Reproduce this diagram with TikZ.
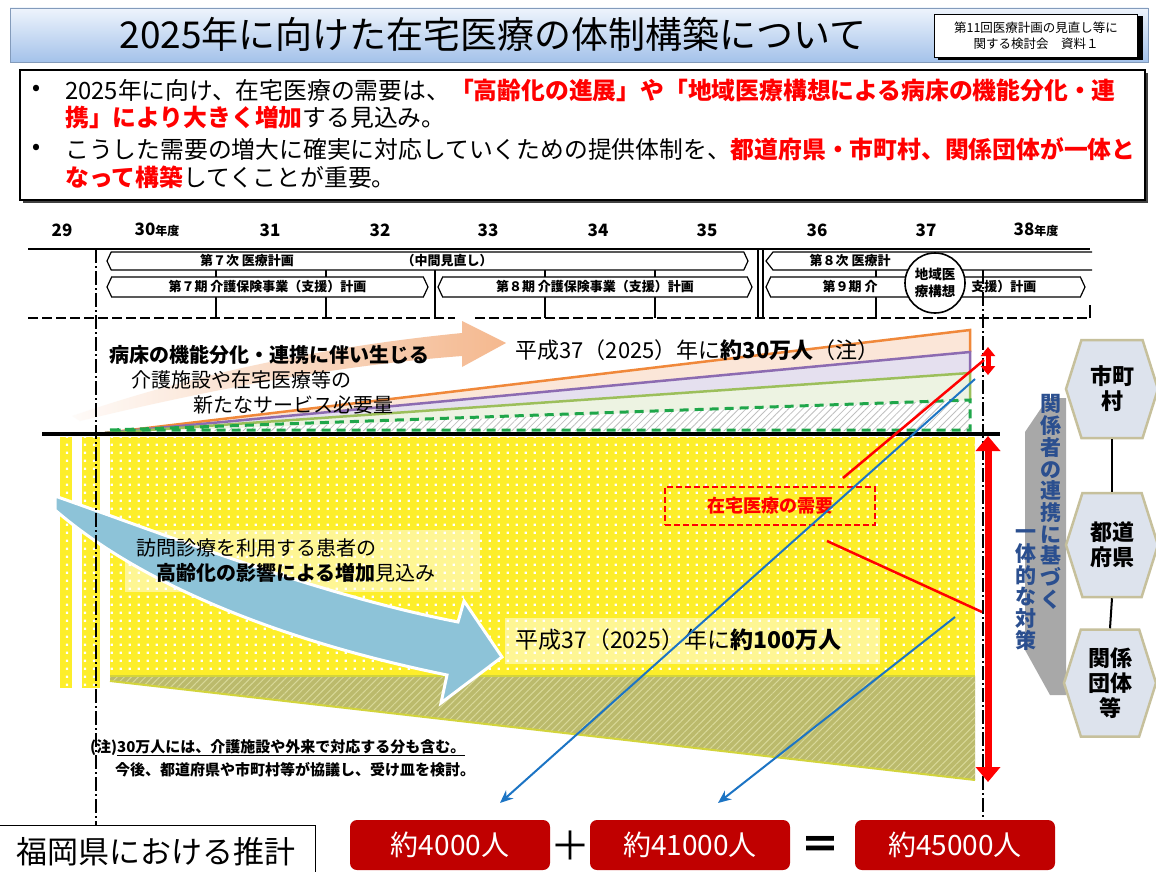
\documentclass[tikz,border=0pt]{standalone}
\usepackage{fontspec}
\setmainfont{Noto Sans CJK JP}
\usetikzlibrary{shapes.symbols,arrows.meta,patterns.meta,calc}
\newcommand{\fsz}[1]{\fontsize{#1}{#1}\selectfont}
\definecolor{bantop}{HTML}{EEF4FC}
\definecolor{banbot}{HTML}{A4C2EA}
\definecolor{myred}{HTML}{FF0000}
\definecolor{boxred}{HTML}{C00000}
\definecolor{yel}{HTML}{FDEE2A}
\definecolor{khaki}{HTML}{BBBA6C}
\definecolor{hatchc}{HTML}{D8D898}
\definecolor{ygrn}{HTML}{D2D43C}
\definecolor{peach}{HTML}{F4B183}
\definecolor{lblue}{HTML}{8DC3D8}
\definecolor{ora}{HTML}{F0883A}
\definecolor{pur}{HTML}{8C6BB1}
\definecolor{grn}{HTML}{9CBF5B}
\definecolor{dgrn}{HTML}{1FA64A}
\definecolor{orfill}{HTML}{FBE6D8}
\definecolor{pufill}{HTML}{E5E0EF}
\definecolor{grfill}{HTML}{EDF3E2}
\definecolor{blu}{HTML}{1C74C4}
\definecolor{hexfill}{HTML}{DDE3ED}
\definecolor{hexline}{HTML}{C6C09C}
\definecolor{vblue}{HTML}{2B4F8F}
\definecolor{gbar}{HTML}{A8A8A8}
\newcommand{\rb}[1]{\textcolor{myred}{\bfseries #1}}
\tikzdeclarepattern{
  name=wdots, type=uncolored,
  bounding box={(0pt,0pt) and (9pt,8pt)},
  tile size={(9pt,8pt)},
  code={\fill (3pt,2.5pt) rectangle (5.5pt,5pt);}
}
\begin{document}
\begin{tikzpicture}[x=1pt,y=-1pt,
  yearlbl/.style={font=\fsz{17}\bfseries},
  rowbox/.style={signal, signal to=west and east, signal pointer angle=130, draw, line width=1.2pt, fill=white, inner sep=0pt},
  rowtxt/.style={font=\fsz{13}\bfseries},
  tick/.style={line width=1.5pt},
  hexbox/.style={signal, signal to=west and east, signal pointer angle=145, fill=hexfill, draw=hexline, line width=2.5pt, minimum width=92pt, align=center, font=\fontsize{22}{25}\selectfont\bfseries, inner sep=0pt},
  redbox/.style={fill=boxred, rounded corners=7pt, minimum width=200pt, minimum height=50pt, text=white, font=\fsz{28}},
  vtext/.style={align=center, text=vblue, font=\fontsize{21}{21.7}\selectfont\bfseries, inner sep=0pt},
  blueline/.style={blu, line width=2pt, -{Stealth[length=13pt,width=11pt]}},
  redline/.style={myred, line width=2.5pt},
  bullet/.style={font=\fsz{23.8}, anchor=west, inner sep=0pt},
  bdot/.style={font=\fsz{20}\bfseries, anchor=center, inner sep=0pt},
]
\useasboundingbox (0,0) rectangle (1156,872);
\fill[white] (0,0) rectangle (1156,872);

% ---------- title banner ----------
\shade[top color=bantop, bottom color=banbot, draw=banbot!80!black, line width=0.6pt] (10,8) rectangle (1148,62);
\node[font=\fsz{37}] (title) at (493,34) {2025年に向けた在宅医療の体制構築について};
\fill[black] (938,16) rectangle (1143,60);
\node[draw, line width=1pt, fill=white, minimum width=203pt, minimum height=43pt, align=center, font=\fontsize{12.5}{16}\selectfont, inner sep=0pt] (src) at (1036,36) {第11回医療計画の見直し等に\\関する検討会　資料１};

% ---------- bullet box ----------
\fill[black!75] (23,73) rectangle (1148,203);
\draw[line width=1.5pt, fill=white] (20,70) rectangle (1145,200);
\node[bdot] (b1) at (36,90) {•};
\node[bullet] (t1) at (65,90) {2025年に向け、在宅医療の需要は、\rb{「高齢化の進展」や「地域医療構想による病床の機能分化・連}};
\node[bullet] (t2) at (65,117) {\rb{携」により大きく増加}する見込み。};
\node[bdot] (b2) at (36,149) {•};
\node[bullet] (t3) at (65,149) {こうした需要の増大に確実に対応していくための提供体制を、\rb{都道府県・市町村、関係団体が一体と}};
\node[bullet] (t4) at (65,177) {\rb{なって構築}してくことが重要。};

% ---------- timeline ----------
\node[yearlbl] (y29) at (62,230) {29};
\node[yearlbl] (y30) at (157,230) {30{\fsz{12}年度}};
\node[yearlbl] (y31) at (270,230) {31};
\node[yearlbl] (y32) at (380,230) {32};
\node[yearlbl] (y33) at (488,230) {33};
\node[yearlbl] (y34) at (598,230) {34};
\node[yearlbl] (y35) at (707,230) {35};
\node[yearlbl] (y36) at (817,230) {36};
\node[yearlbl] (y37) at (926,230) {37};
\node[yearlbl] (y38) at (1036,230) {38{\fsz{12}年度}};

\draw[line width=2pt] (28,249) -- (1090,249);
\foreach \xx in {216,545,655,876} \draw[tick] (\xx,270) -- (\xx,318);
\draw[line width=2.5pt] (326,270) -- (326,318);
\draw[tick] (435,270) -- (435,318);
\draw[line width=1.2pt] (758,249) -- (758,318);
\draw[line width=1.2pt] (763,249) -- (763,318);
\draw[line width=2pt, dash pattern=on 10pt off 4pt] (28,318) -- (455,318);
\draw[line width=2pt, dash pattern=on 10pt off 4pt] (475,318) -- (1090,318);
\draw[line width=1.5pt] (1090,305) -- (1090,318);

\node[rowbox, minimum width=641pt, minimum height=18pt] (r1) at (427.5,261) {};
\node[rowtxt] (r1a) at (247,261) {第７次 医療計画};
\node[rowtxt] (r1b) at (447,261) {（中間見直し）};
\draw[line width=1.2pt, fill=white] (1092,252) -- (773,252) -- (766,261) -- (773,270) -- (1092,270);
\node[rowtxt, anchor=west] (r1c) at (806,261) {第８次 医療計};
\node[rowbox, minimum width=321pt, minimum height=20pt] (r2) at (267.5,287) {};
\node[rowtxt] at (r2) {第７期 介護保険事業（支援）計画};
\node[rowbox, minimum width=314pt, minimum height=20pt] (r3) at (595,287) {};
\node[rowtxt] at (r3) {第８期 介護保険事業（支援）計画};
\node[rowbox, minimum width=319pt, minimum height=20pt] (r4) at (925.5,287) {};
\node[rowtxt, anchor=west] (r4a) at (819,287) {第９期 介};
\node[rowtxt, anchor=east] (r4b) at (1040,287) {支援）計画};
\node[circle, draw, line width=1.6pt, fill=white, minimum size=60pt, inner sep=0pt, align=center, font=\fontsize{13.5}{17}\selectfont\bfseries] (chiiki) at (935,283) {地域医\\療構想};

% ---------- upper chart ----------
\fill[orfill] (105,433) -- (970,330) -- (970,352) -- cycle;
\fill[pufill] (105,433) -- (970,352) -- (970,373) -- cycle;
\fill[grfill] (105,433) -- (970,373) -- (970,400) -- cycle;
\fill[pattern={Lines[angle=45,distance=5pt,line width=0.8pt]}, pattern color=black!25] (105,433) -- (970,400) -- (970,431) -- (105,431) -- cycle;
\draw[ora, line width=2.5pt] (105,433) -- (970,330) -- (970,352);
\draw[pur, line width=2.5pt] (105,433) -- (970,352) -- (970,373);
\draw[grn, line width=2.5pt] (105,433) -- (970,373) -- (970,400);
\draw[dgrn, line width=3pt, dash pattern=on 9pt off 6pt] (110,430) -- (970,400) -- (970,430) -- cycle;

\shade[left color=peach!5, right color=peach, opacity=0.9] (72,416) .. controls (200,372) and (330,346) .. (462,333) -- (462,321) -- (506,343) -- (462,367) -- (462,356) .. controls (330,366) and (200,392) .. (80,421) -- cycle;

\node[font=\fsz{20}\bfseries, anchor=west] (u1) at (106,355) {病床の機能分化・連携に伴い生じる};
\node[font=\fsz{20}, anchor=west] (u2) at (128,380) {介護施設や在宅医療等の};
\node[font=\fsz{20}, anchor=west] (u3) at (190,405) {新たなサービス必要量};
\node[font=\fsz{22}, anchor=west] (u4) at (512,350) {平成37（2025）年に\textbf{約30万人}（注）};

\draw[line width=4pt] (42,434) -- (1000,434);

% ---------- lower chart ----------
\fill[yel] (60,437) rectangle (72,688);
\fill[yel] (82,437) rectangle (100,688);
\fill[yel] (110,437) rectangle (975,676);
\fill[pattern=wdots, pattern color=white] (60,437) rectangle (72,688);
\fill[pattern=wdots, pattern color=white] (82,437) rectangle (100,688);
\fill[pattern=wdots, pattern color=white] (110,437) rectangle (975,676);
\fill[khaki] (110,676) -- (975,676) -- (975,780) -- (110,681) -- cycle;
\fill[pattern={Lines[angle=45,distance=5pt,line width=1pt]}, pattern color=hatchc] (110,676) -- (975,676) -- (975,780) -- (110,681) -- cycle;
\draw[ygrn, line width=2pt] (110,676) -- (975,676);
\draw[ygrn, line width=2pt] (110,681) -- (975,780);

\fill[white, opacity=0.5] (125,530) rectangle (480,592);
\fill[white, opacity=0.5] (505,618) rectangle (880,664);

\draw[white, line width=3pt, fill=lblue] (55,496) .. controls (180,540) and (320,595) .. (458,622) -- (464,601) -- (502,657) -- (441,703) -- (447,675) .. controls (300,645) and (150,592) .. (55,510) -- cycle;

\node[font=\fsz{20}, anchor=west] (l1) at (133,548) {訪問診療を利用する患者の};
\node[font=\fsz{20}, anchor=west] (l2) at (153,573) {\textbf{高齢化の影響による増加}見込み};
\node[font=\fsz{23}, anchor=west] (l3) at (512,640) {平成37（2025）年に\textbf{約100万人}};

% verticals
\draw[line width=1.5pt, dash pattern=on 14pt off 3pt on 2pt off 3pt] (96,249) -- (96,827);
\draw[line width=1.5pt, dash pattern=on 14pt off 3pt on 2pt off 3pt] (983,270) -- (983,825);

% ---------- red annotations ----------
\node[draw=myred, dash pattern=on 6pt off 3pt, line width=1.8pt, minimum width=210pt, minimum height=38pt, font=\fsz{18}\bfseries, text=myred] (juyo) at (770,506) {在宅医療の需要};
\coordinate (sa1) at (988,347);
\coordinate (sa2) at (988,375);
\coordinate (ba1) at (988,436);
\coordinate (ba2) at (988,782);
\draw[myred, line width=5pt, {Triangle[width=14pt,length=9pt]}-{Triangle[width=14pt,length=9pt]}] (sa1) -- (sa2);
\draw[myred, line width=7pt, {Triangle[width=24pt,length=15pt]}-{Triangle[width=24pt,length=15pt]}] (ba1) -- (ba2);
\coordinate (rl1s) at (843,478);
\coordinate (rl1e) at (984,360);
\coordinate (rl2s) at (827,541);
\coordinate (rl2e) at (982,612);
\draw[redline] (rl1s) -- (rl1e);
\draw[redline] (rl2s) -- (rl2e);

% ---------- bottom ----------
\draw[line width=1pt, fill=white] (-2,825) rectangle (315,875);
\node[font=\fsz{31}] (fk) at (156,852) {福岡県における推計};
\node[redbox] (n1) at (450,845) {約4000人};
\node[redbox] (n2) at (690,845) {約41000人};
\node[redbox] (n3) at (955,845) {約45000人};
\node[font=\fsz{40}] (plus) at (570,846) {＋};
\node[font=\fsz{40}\bfseries] (eq) at (820,848) {＝};

\coordinate (bl1s) at (975,379);
\coordinate (bl1e) at (500,803);
\coordinate (bl2s) at (955,617);
\coordinate (bl2e) at (718,803);
\draw[blueline] (bl1s) -- (bl1e);
\draw[blueline] (bl2s) -- (bl2e);

% footnote
\node[font=\fsz{15}\bfseries, anchor=west, inner sep=0pt] (fn1) at (90,748) {(注)\underline{30万人には、介護施設や外来で対応する分も含む。}};
\node[font=\fsz{15}\bfseries, anchor=west, inner sep=0pt] (fn2) at (115,770) {今後、都道府県や市町村等が協議し、受け皿を検討。};

% ---------- right side ----------
\fill[gbar] (1025,432) -- (1048,398) -- (1066,398) -- (1066,695) -- (1050,695) -- (1025,650) -- cycle;
\node[hexbox, minimum height=98pt] (h1) at (1112,389) {市町\\村};
\node[hexbox, minimum height=104pt] (h2) at (1112,545) {都道\\府県};
\node[hexbox, minimum height=107pt] (h3) at (1110,683) {関係\\団体\\等};
\draw[line width=2pt] (h1.south) -- (h2.north);
\draw[line width=2pt] (h2.south) -- (h3.north);
\node[vtext] (v1) at (1051,502) {関\\係\\者\\の\\連\\携\\に\\基\\づ\\く};
\node[vtext] (v2) at (1026,590) {一\\体\\的\\な\\対\\策};
\end{tikzpicture}
\end{document}
